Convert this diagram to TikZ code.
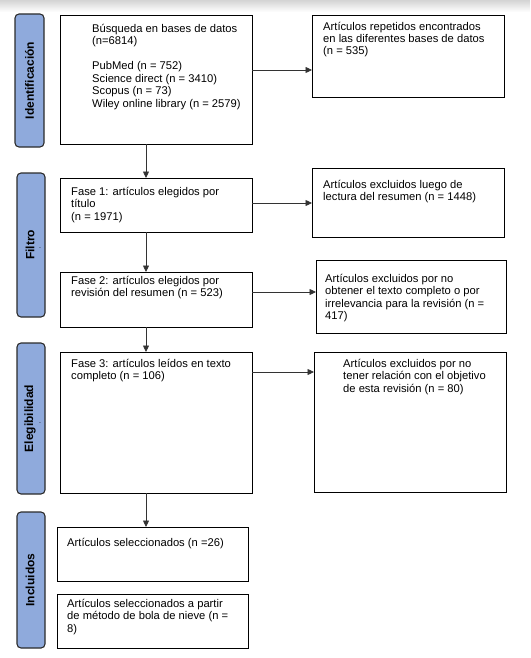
\documentclass[tikz,border=0pt]{standalone}
\usepackage{fontspec}
\setmainfont{Liberation Sans}
\usetikzlibrary{arrows.meta}
\definecolor{sideblue}{HTML}{8FAADC}
\definecolor{sideedge}{HTML}{2B2B2B}
\tikzset{
  box/.style={draw=black, line width=0.9pt, anchor=north west, inner sep=0pt, outer sep=0pt},
  side/.style={draw=sideedge, fill=sideblue, line width=1.1pt, rounded corners=4pt, anchor=north west, inner sep=0pt, outer sep=0pt},
  sidelabel/.style={rotate=90, font=\fontsize{12}{13}\selectfont\bfseries, inner sep=0pt},
  txt/.style={anchor=north west, align=left, inner sep=0pt, font=\fontsize{11.2}{12.4}\selectfont},
  arr/.style={draw=black!80, line width=0.7pt, -{Triangle[length=6.5pt,width=6pt]}},
  tinydot/.style={inner sep=0pt, font=\fontsize{7}{7}\selectfont}
}
\newcommand{\fl}{\rule{0pt}{10pt}}
\begin{document}
\begin{tikzpicture}[x=1pt,y=-1pt]
\useasboundingbox (0,0) rectangle (530,658);
\shade[top color=black!17, bottom color=white] (0,0) rectangle (530,12);
% side boxes
\node[side, minimum width=29pt, minimum height=133pt] (sI) at (15,14) {};
\node[sidelabel] (lI) at (sI.center) {Identificación};
\node[side, minimum width=28pt, minimum height=144pt] (sF) at (17,173) {};
\node[sidelabel] (lF) at ([xshift=-1pt]sF.center) {Filtro};
\node[tinydot] (dF) at (40,248) {.};
\node[side, minimum width=28pt, minimum height=151pt] (sE) at (17,343) {};
\node[sidelabel] (lE) at ([xshift=-1pt]sE.center) {Elegibilidad};
\node[tinydot] (dE) at (40,423) {.};
\node[side, minimum width=28pt, minimum height=136pt] (sC) at (17,512) {};
\node[sidelabel] (lC) at ([xshift=-1pt]sC.center) {Incluidos};
% left column
\node[box, minimum width=192pt, minimum height=129pt] (b1) at (60,15) {};
\node[txt] (t1) at (92,22) {\fl Búsqueda en bases de datos\\(n=6814)\\[12.8pt]PubMed (n = 752)\\Science direct (n = 3410)\\Scopus (n = 73)\\Wiley online library (n = 2579)};
\node[box, minimum width=192pt, minimum height=54pt] (f1) at (60,178) {};
\node[txt] (tf1) at (71,185) {\fl Fase 1: artículos elegidos por\\título\\(n = 1971)};
\node[box, minimum width=192pt, minimum height=55pt] (f2) at (60,272) {};
\node[txt] (tf2) at (71,274) {\fl Fase 2: artículos elegidos por\\revisión del resumen (n = 523)};
\node[box, minimum width=192pt, minimum height=141pt] (f3) at (60,352) {};
\node[txt] (tf3) at (71,357) {\fl Fase 3: artículos leídos en texto\\completo (n = 106)};
\node[box, minimum width=191pt, minimum height=54pt] (s1) at (57,527) {};
\node[txt] (ts1) at (67,536) {\fl Artículos seleccionados (n =26)};
\node[box, minimum width=191pt, minimum height=54pt] (s2) at (57,594) {};
\node[txt] (ts2) at (67,597) {\fl Artículos seleccionados a partir\\de método de bola de nieve (n =\\8)};
% right column
\node[box, minimum width=192pt, minimum height=82pt] (r1) at (312,15) {};
\node[txt] (tr1) at (323,20) {\fl Artículos repetidos encontrados\\en las diferentes bases de datos\\(n = 535)};
\node[box, minimum width=192pt, minimum height=69pt] (r2) at (312,168) {};
\node[txt] (tr2) at (323,178) {\fl Artículos excluidos luego de\\lectura del resumen (n = 1448)};
\node[box, minimum width=190pt, minimum height=73pt] (r3) at (316,260) {};
\node[txt] (tr3) at (325,272) {\fl Artículos excluidos por no\\obtener el texto completo o por\\irrelevancia para la revisión (n =\\417)};
\node[box, minimum width=192pt, minimum height=140pt] (r4) at (314,352) {};
\node[txt] (tr4) at (343,357) {\fl Artículos excluidos por no\\tener relación con el objetivo\\de esta revisión (n = 80)};
% horizontal connectors
\coordinate (h1) at ([yshift=-55pt]b1.north east);
\draw[arr] (h1) -- (h1 -| r1.west);
\coordinate (h2) at ([yshift=-25pt]f1.north east);
\draw[arr] (h2) -- (h2 -| r2.west);
\coordinate (h3) at ([yshift=-20pt]f2.north east);
\draw[arr] (h3) -- (h3 -| r3.west);
\coordinate (h4) at ([yshift=-20pt]f3.north east);
\draw[arr] (h4) -- (h4 -| r4.west);
% vertical connectors
\coordinate (v1) at ([xshift=86pt]b1.south west);
\draw[arr] (v1) -- (v1 |- f1.north);
\coordinate (v2) at ([xshift=86pt]f1.south west);
\draw[arr] (v2) -- (v2 |- f2.north);
\coordinate (v3) at ([xshift=86pt]f2.south west);
\draw[arr] (v3) -- (v3 |- f3.north);
\coordinate (v4) at ([xshift=86pt]f3.south west);
\draw[arr] (v4) -- (v4 |- s1.north);
\end{tikzpicture}
\end{document}
